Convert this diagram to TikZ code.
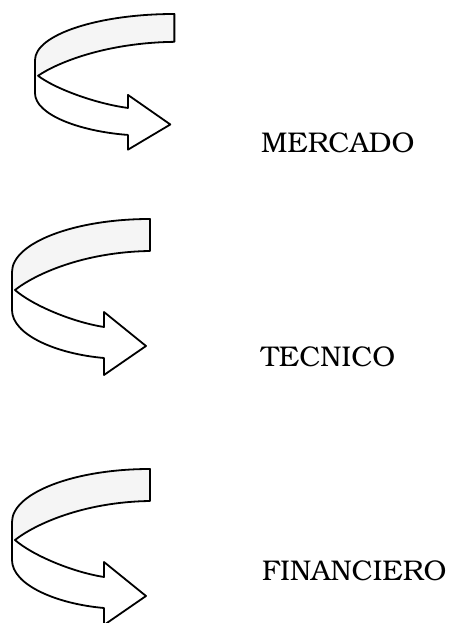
\documentclass[tikz,border=0pt]{standalone}
\usepackage[T1]{fontenc}
\usepackage{bookman}
\begin{document}
\begin{tikzpicture}[x=1pt,y=1pt,
  outline/.style={draw=black,line width=1.8pt,line join=round},
  lbl/.style={anchor=base west,inner sep=0pt,font=\fontsize{28.5}{31}\selectfont}]
\useasboundingbox (0,0) rectangle (458,623);
\newcommand{\bendarrow}[4]{%
  \begin{scope}[shift={(#1,#2)},xscale=#3,yscale=#4]
    % upper band (slightly shaded)
    \fill[black!4] (138,0) .. controls (62,0) and (0,-24) .. (0,-53)
      -- (0,-71) -- (3,-71) .. controls (22,-56) and (70,-33) .. (138,-32) -- cycle;
    % lower band and head
    \fill[white] (0,-71) -- (3,-71) .. controls (20,-86) and (60,-103) .. (92,-108)
      -- (92,-93) -- (134,-127) -- (92,-156) -- (92,-139)
      .. controls (45,-135) and (0,-116) .. (0,-91) -- cycle;
    % outline
    \draw[outline] (138,0) .. controls (62,0) and (0,-24) .. (0,-53)
      -- (0,-91) .. controls (0,-116) and (45,-135) .. (92,-139)
      -- (92,-156) -- (134,-127) -- (92,-93) -- (92,-108)
      .. controls (60,-103) and (20,-86) .. (3,-71)
      .. controls (22,-56) and (70,-33) .. (138,-32) -- cycle;
  \end{scope}}
\bendarrow{35}{609}{1.01}{0.87}
\bendarrow{12}{404}{1}{1}
\bendarrow{12}{154}{1}{1}
\node[lbl] (m) at (261,470) {MERCADO};
\node[lbl] (t) at (261,256) {TECNICO};
\node[lbl] (f) at (262,42) {FINANCIERO};
\end{tikzpicture}
\end{document}
